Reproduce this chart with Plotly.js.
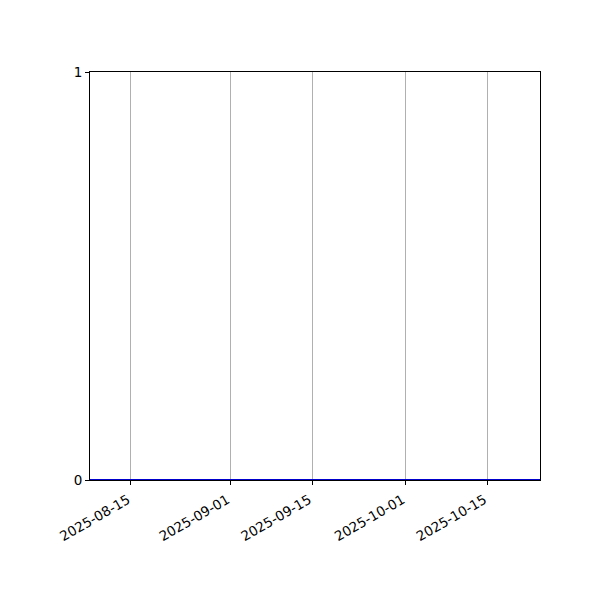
<!DOCTYPE html>
<html>
<head>
<meta charset="utf-8">
<script src="https://cdn.plot.ly/plotly-3.0.1.min.js"></script>
<style>
  body { margin: 0; }
  #chart { width: 600px; height: 600px; }
</style>
</head>
<body>
<div id="chart"></div>
<script>
let dates = ['2025-08-08', '2025-08-22', '2025-09-05', '2025-09-19', '2025-10-03', '2025-10-17', '2025-10-24'];
let values = [0, 0, 0, 0, 0, 0, 0];
let tickDates = ['2025-08-15', '2025-09-01', '2025-09-15', '2025-10-01', '2025-10-15'];
let yTicks = [0, 1];

let trace1 = {
    x: dates,
    y: values,
    type: 'scatter',
    mode: 'lines',
    line: { color: '#0000cc', width: 2 },
    hoverinfo: 'skip'
};

let layout = {
    width: 600,
    height: 600,
    margin: { l: 90, r: 60, t: 72, b: 120 },
    paper_bgcolor: 'white',
    plot_bgcolor: 'white',
    showlegend: false,
    font: { family: 'DejaVu Sans', size: 13.5, color: 'black' },
    xaxis: {
        type: 'date',
        range: ['2025-08-08', '2025-10-24'],
        tickvals: tickDates,
        ticktext: tickDates,
        tickangle: -30,
        ticks: 'outside',
        ticklen: 4,
        tickcolor: 'black',
        ticklabelshift: -3,
        ticklabelstandoff: 2,
        showgrid: true,
        gridcolor: '#b0b0b0',
        gridwidth: 1,
        zeroline: false,
        showline: true,
        linecolor: 'black',
        linewidth: 1,
        mirror: true
    },
    yaxis: {
        range: [0, 1],
        tickvals: yTicks,
        ticktext: yTicks.map(String),
        ticks: 'outside',
        ticklen: 4,
        tickcolor: 'black',
        showgrid: false,
        zeroline: false,
        showline: true,
        linecolor: 'black',
        linewidth: 1,
        mirror: true
    }
};

Plotly.newPlot('chart', [trace1], layout, { displayModeBar: false, staticPlot: true });
</script>
</body>
</html>
